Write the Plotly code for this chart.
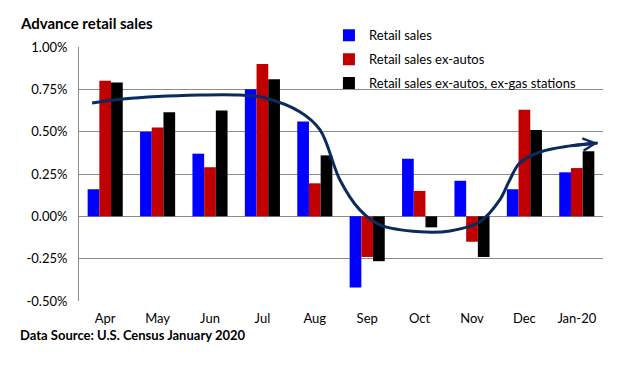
import plotly.graph_objects as go

categories = ["Apr", "May", "Jun", "Jul", "Aug", "Sep", "Oct", "Nov", "Dec", "Jan-20"]
retail_sales = [0.16, 0.50, 0.37, 0.75, 0.56, -0.42, 0.34, 0.21, 0.16, 0.26]
retail_ex_autos = [0.80, 0.525, 0.29, 0.90, 0.195, -0.24, 0.15, -0.15, 0.63, 0.285]
retail_ex_autos_gas = [0.79, 0.615, 0.625, 0.81, 0.36, -0.265, -0.065, -0.24, 0.51, 0.385]

# hand-drawn trend curve (x in category index units, y in %)
trend_x = [-0.25, 0.34, 1.81, 2.57, 3.05, 3.72, 4.10, 4.48, 4.86, 5.24, 6.01, 6.58, 7.15, 7.53, 7.72, 7.91, 8.30, 8.87, 9.40]
trend_y = [0.669, 0.693, 0.716, 0.716, 0.699, 0.616, 0.510, 0.215, 0.038, -0.050, -0.091, -0.086, -0.032, 0.097, 0.215, 0.315, 0.380, 0.416, 0.433]

y_ticks = [-0.5, -0.25, 0.0, 0.25, 0.5, 0.75, 1.0]
y_ticktext = [f"{v:.2f}%" for v in y_ticks]

FONT = "Lato"
GRID = "#8c8c8c"
OX, OY = 8, 8  # page body offset of the plot div
PW, PH = 524, 254

fig = go.Figure()
series = [
    ("Retail sales", retail_sales, "#0000FF"),
    ("Retail sales ex-autos", retail_ex_autos, "#C00000"),
    ("Retail sales ex-autos, ex-gas stations", retail_ex_autos_gas, "#000000"),
]
for name, vals, col in series:
    fig.add_trace(go.Bar(x=list(range(len(categories))), y=vals, name=name,
                         marker=dict(color=col, line=dict(width=0)),
                         legendgroup=name))

fig.add_trace(go.Scatter(x=trend_x, y=trend_y, mode="lines",
                         line=dict(color="#0B2A5E", width=3, shape="spline", smoothing=1.0),
                         showlegend=False, hoverinfo="skip"))

fig.add_annotation(x=trend_x[-1], y=trend_y[-1], ax=trend_x[-2], ay=trend_y[-2],
                   xref="x", yref="y", axref="x", ayref="y", text="",
                   showarrow=True, arrowhead=5, arrowsize=0.8, arrowwidth=3,
                   arrowcolor="#0B2A5E")

n = len(categories)
boundaries = [i - 0.5 for i in range(n + 1)]

L, T = 79 - OX, 47 - OY
fig.update_layout(
    width=640 - OX, height=366 - OY,
    margin=dict(l=L, r=640 - OX - L - PW, t=T, b=366 - OY - T - PH, autoexpand=False),
    plot_bgcolor="white", paper_bgcolor="white",
    barmode="group", bargap=0.33, bargroupgap=0,
    font=dict(family=FONT, size=13, color="black"),
    xaxis=dict(range=[-0.5, n - 0.5], tickmode="array",
               tickvals=list(range(n)), ticktext=categories,
               showline=False, showgrid=False, zeroline=False, automargin=False,
               ticks="", ticklabelstandoff=8,
               tickfont=dict(family=FONT, size=13, color="black")),
    xaxis2=dict(overlaying="x", anchor="free", position=1/3, automargin=False,
                range=[-0.5, n - 0.5], tickmode="array", tickvals=boundaries,
                showticklabels=False, showline=True, linecolor=GRID, linewidth=1,
                ticks="outside", ticklen=5, tickcolor=GRID, showgrid=False, zeroline=False),
    yaxis=dict(range=[-0.5, 1.0], tickmode="array", tickvals=y_ticks, ticktext=y_ticktext,
               showgrid=True, gridcolor=GRID, gridwidth=1, zeroline=False, automargin=False,
               showline=True, linecolor=GRID, linewidth=1, ticks="",
               ticklabelstandoff=8,
               tickfont=dict(family=FONT, size=13, color="black")),
    legend=dict(x=0.477, y=1.105, xanchor="left", yanchor="top",
                bgcolor="rgba(0,0,0,0)", traceorder="grouped", tracegroupgap=4,
                font=dict(family=FONT, size=13, color="black"), itemwidth=30),
    showlegend=True,
)

fig.add_annotation(text="<b>Advance retail sales</b>", xref="paper", yref="paper",
                   x=(18 - 79) / PW, y=1 + (47 - 23) / PH, xanchor="left", yanchor="middle",
                   showarrow=False, font=dict(family=FONT, size=15, color="black"))
fig.add_annotation(text="<b>Data Source: U.S. Census January 2020</b>", xref="paper", yref="paper",
                   x=(18 - 79) / PW, y=-(335 - 301) / PH, xanchor="left", yanchor="middle",
                   showarrow=False, font=dict(family=FONT, size=13, color="black"))

fig.write_html("out.html")
